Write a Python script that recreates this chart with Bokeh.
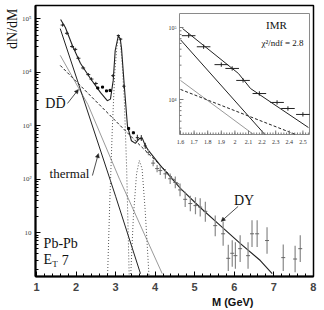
import numpy as np
from bokeh.plotting import figure
from bokeh.models import (Range1d, LinearScale, LogScale, Label, Arrow, NormalHead,
                          CustomJSTickFormatter, FixedTicker, Title)
from bokeh.core.properties import value
from bokeh.embed import file_html
from bokeh.resources import INLINE

SERIF = "Liberation Serif"
SANS = "Liberation Sans"

# ---------------- data ----------------
# intermediate-mass data points (M in GeV, dN/dM)
imr_m = [1.66, 1.77, 1.90, 1.98, 2.06, 2.18, 2.31, 2.39, 2.50]
imr_y = [77000, 54000, 30500, 27000, 18400, 12100, 9100, 7500, 6200]
imr_lo = [72000, 50500, 28500, 25200, 17200, 11300, 8500, 7000, 5800]
imr_hi = [82500, 58000, 32700, 28900, 19700, 13000, 9750, 8050, 6650]

# filled dots (between IMR and J/psi, and around psi')
dot_m = [2.55, 2.67, 2.77, 2.86, 3.33, 3.45]
dot_y = [5100, 5300, 4500, 4600, 890, 740]

# J/psi and psi' region points
res_m = [2.93, 3.07, 3.13, 3.21, 3.55, 3.65, 3.75]
res_y = [8700, 49000, 42000, 5500, 600, 590, 420]
res_lo = [8200, 46500, 39800, 5150, 530, 520, 370]
res_hi = [9200, 51500, 44200, 5850, 680, 670, 480]

# high-mass points
hm_m = [3.83, 3.95, 4.05, 4.13, 4.26, 4.38, 4.51, 4.63, 4.76, 4.89, 5.02, 5.14, 5.27,
        5.52, 5.72, 5.85, 5.95, 6.03, 6.15, 6.35, 6.45, 6.58, 6.83, 7.24, 7.54, 7.67]
hm_y = [316, 200, 158, 145, 126, 102, 87, 63, 42, 35, 32, 30, 25,
        13.5, 9.5, 3.3, 4.1, 3.7, 5.0, 3.7, 9.5, 9.5, 7.1, 3.4, 3.2, 5.0]
hm_lo = [280, 175, 135, 120, 102, 81, 68, 48, 30, 25, 22, 20, 16,
         8.5, 5.7, 1.9, 2.3, 2.1, 2.8, 2.1, 5.4, 5.4, 4.0, 1.9, 1.8, 2.8]
hm_hi = [355, 230, 185, 175, 155, 128, 112, 83, 58, 49, 46, 44, 38,
         21, 16, 5.9, 7.2, 6.6, 8.9, 6.6, 17, 17, 12.6, 6.0, 5.7, 8.9]

# fitted curves
total_m = [1.61, 1.73, 1.91, 2.11, 2.36, 2.62, 2.79, 2.87, 2.94, 2.99, 3.07, 3.12, 3.15,
           3.22, 3.30, 3.40, 3.50, 3.60, 3.68, 3.75, 3.83, 4.13, 4.64, 5.14, 5.65, 6.15,
           6.66, 6.96]
total_y = [97700, 69200, 31600, 14800, 7760, 4170, 2950, 3160, 7080, 25700, 49000, 41700,
           28200, 5620, 1000, 525, 468, 575, 575, 427, 347, 182, 67.6, 29.5, 13.5, 6.3,
           3.0, 1.7]
thermal_m = [1.6, 2.16, 3.0, 3.63]
thermal_y = [66000, 3700, 48, 1.7]
thermal2_m = [1.6, 2.3, 3.1, 4.18]
thermal2_y = [20900, 2500, 100, 1.7]
dd_m = [1.6, 2.5, 3.5, 4.13, 4.6]
dd_y = [13500, 2900, 525, 182, 80]
jpsi_m = [2.79, 2.85, 2.92, 2.98, 3.03, 3.07, 3.11, 3.16, 3.22, 3.28, 3.35]
jpsi_y = [1.0, 31.6, 1000, 10000, 28200, 45700, 39800, 17800, 3160, 158, 1.0]
psip_m = [3.37, 3.45, 3.53, 3.60, 3.67, 3.75, 3.86]
psip_y = [1.0, 20, 126, 224, 158, 25, 1.0]

# inset (IMR) curves
in_total_m = [1.615, 2.026, 2.115, 2.541]
in_total_y = [96800, 23000, 14200, 4080]
in_th_m = [1.6, 2.22]
in_th_y = [67600, 3270]
in_th2_m = [1.6, 2.137]
in_th2_y = [18400, 3270]
in_dd_m = [1.6, 2.446]
in_dd_y = [13800, 3270]

x_ticks = [1, 2, 3, 4, 5, 6, 7, 8]
y_ticks = [10, 100, 1000, 10000, 100000]
in_x_ticks = [1.6, 1.7, 1.8, 1.9, 2.0, 2.1, 2.2, 2.3, 2.4, 2.5]
in_x_labels = ["1.6", "1.7", "1.8", "1.9", "2", "2.1", "2.2", "2.3", "2.4", "2.5"]
in_y_ticks = [10000, 100000]
in_y_labels = ["10\u2074", "10\u2075"]

# ---------------- figure ----------------
p = figure(width=324, height=310, x_range=Range1d(0.9747, 8.005),
           y_range=Range1d(10 ** 0.1779, 10 ** 5.2528), y_axis_type="log",
           output_backend="svg", toolbar_location=None,
           min_border_left=35, min_border_right=11, min_border_top=5, min_border_bottom=34)
p.xgrid.visible = False
p.ygrid.visible = False
p.outline_line_color = "black"
p.outline_line_width = 1.5

p.xaxis.ticker = FixedTicker(ticks=x_ticks,
                             minor_ticks=[round(v, 2) for v in np.arange(1.0, 8.01, 0.2)])
p.xaxis.major_tick_in = 5
p.xaxis.major_tick_out = 0
p.xaxis.minor_tick_in = 3
p.xaxis.minor_tick_out = 0
p.xaxis.axis_line_width = 2
p.xaxis.major_label_text_font = SANS
p.xaxis.major_label_text_font_style = "bold"
p.xaxis.major_label_text_font_size = "11px"
p.xaxis.major_label_standoff = 6

minors = [k * 10 ** e for e in range(0, 6) for k in range(2, 10)]
p.yaxis.ticker = FixedTicker(ticks=y_ticks, minor_ticks=minors)
p.yaxis.formatter = CustomJSTickFormatter(code="""
const e = Math.round(Math.log10(tick));
if (e == 1) { return "10"; }
const s = ["\u2070","\u00b9","\u00b2","\u00b3","\u2074","\u2075","\u2076"];
return "10" + s[e];
""")
p.yaxis.major_tick_in = 5
p.yaxis.major_tick_out = 0
p.yaxis.minor_tick_in = 3
p.yaxis.minor_tick_out = 0
p.yaxis.axis_line_width = 2
p.yaxis.major_label_text_font = SERIF
p.yaxis.major_label_text_font_size = "7px"
p.yaxis.major_label_standoff = 4

# axis titles as side titles
p.add_layout(Title(text="M (GeV)", align="right", offset=60, standoff=0,
                   text_font=SANS, text_font_style="bold", text_font_size="11px",
                   text_color="#111111"), "below")
p.add_layout(Title(text="dN/dM", align="right", offset=3, standoff=0,
                   text_font=SERIF, text_font_style="normal", text_font_size="14px",
                   text_color="#111111"), "left")

DARK = "#222222"
GRAY = "#9a9a9a"

# model curves
p.line(thermal2_m, thermal2_y, line_color=GRAY, line_width=1)
p.line(thermal_m, thermal_y, line_color=DARK, line_width=1)
p.line(dd_m, dd_y, line_color=DARK, line_width=1, line_dash="3 2")
p.line(jpsi_m, jpsi_y, line_color="#555555", line_width=1, line_dash="1 2")
p.line(psip_m, psip_y, line_color="#555555", line_width=1, line_dash="1 2")
p.line(total_m, total_y, line_color=DARK, line_width=1.1)

# data points
imr_ma = np.array(imr_m)
p.segment(imr_m, imr_lo, imr_m, imr_hi, line_color=DARK, line_width=1)
p.segment(imr_ma - 0.05, imr_y, imr_ma + 0.05, imr_y, line_color=DARK, line_width=1)
res_ma = np.array(res_m)
p.segment(res_m, res_lo, res_m, res_hi, line_color=DARK, line_width=1)
p.segment(res_ma - 0.04, res_y, res_ma + 0.04, res_y, line_color=DARK, line_width=1)
hm_ma = np.array(hm_m)
p.segment(hm_m, hm_lo, hm_m, hm_hi, line_color="#888888", line_width=1.2)
p.segment(hm_ma - 0.05, hm_y, hm_ma + 0.05, hm_y, line_color="#666666", line_width=1)
p.scatter(dot_m, dot_y, marker="square", size=2, color="black")

# annotations in main panel
def lab(x, y, t, size="14px", align="center", baseline="middle"):
    p.add_layout(Label(x=x, y=y, text=t, text_font=SERIF, text_font_size=size,
                       text_align=align, text_baseline=baseline, text_color="#111111"))

lab(1.48, 2620, "DD\u0304")
lab(1.833, 128, "thermal", "13px")
lab(6.25, 40, "DY")
lab(1.18, 6.25, "Pb-Pb", "14px", "left")
lab(1.18, 3.13, "E", "14px", "left")
lab(1.40, 2.6, "T", "9px", "left")
lab(1.64, 3.13, "7", "14px", "left")

for (x0, y0, x1, y1) in [(1.783, 2620, 2.06, 4790), (2.414, 117, 2.566, 302),
                         (6.10, 31, 5.67, 16.2)]:
    p.add_layout(Arrow(end=NormalHead(size=4, line_color=DARK, fill_color=DARK, line_width=0.5),
                       x_start=x0, y_start=y0, x_end=x1, y_end=y1,
                       line_color=DARK, line_width=0.8))

# ---------------- inset ----------------
p.extra_x_ranges = {"ix": Range1d(0.5338, 2.578)}
p.extra_x_scales = {"ix": LinearScale()}
p.extra_y_ranges = {"iy": Range1d(10 ** 1.5417, 10 ** 5.3056)}
p.extra_y_scales = {"iy": LogScale()}
IX0, IX1 = 1.5926, 2.5485
IY0, IY1 = 10 ** 3.5139, 10 ** 5.1944
kw = dict(x_range_name="ix", y_range_name="iy")

p.quad(left=IX0, right=IX1, bottom=IY0, top=IY1, fill_color="white",
       line_color="#8a8a8a", line_width=1, **kw)
p.line(in_th2_m, in_th2_y, line_color=GRAY, line_width=1, **kw)
p.line(in_th_m, in_th_y, line_color=DARK, line_width=1, **kw)
p.line(in_dd_m, in_dd_y, line_color=DARK, line_width=1, line_dash="3 2", **kw)
p.line(in_total_m, in_total_y, line_color=DARK, line_width=1, **kw)
p.segment(imr_m, imr_lo, imr_m, imr_hi, line_color=DARK, line_width=1, **kw)
p.segment(imr_ma - 0.05, imr_y, imr_ma + 0.05, imr_y, line_color=DARK, line_width=1, **kw)

# inset ticks
f_maj = 10 ** (4 / 72)
f_min = 10 ** (2 / 72)
p.segment(in_x_ticks, [IY0] * len(in_x_ticks), in_x_ticks, [IY0 * f_maj] * len(in_x_ticks),
          line_color="#777777", line_width=1, **kw)
in_minor = [round(v, 2) for v in np.arange(1.6, 2.541, 0.02)]
p.segment(in_minor, [IY0] * len(in_minor), in_minor, [IY0 * f_min] * len(in_minor),
          line_color="#777777", line_width=1, **kw)
in_yminor = [4000, 5000, 6000, 7000, 8000, 9000, 20000, 30000, 40000, 50000, 60000,
             70000, 80000, 90000]
p.segment([IX0] * 2, in_y_ticks, [IX0 + 4 / 136] * 2, in_y_ticks,
          line_color="#777777", line_width=1, **kw)
p.segment([IX0] * len(in_yminor), in_yminor, [IX0 + 2 / 136] * len(in_yminor), in_yminor,
          line_color="#777777", line_width=1, **kw)
p.text(in_x_ticks, [10 ** 3.403] * len(in_x_ticks), text=in_x_labels,
       text_font=value(SERIF), text_font_size="6px", text_align="center",
       text_baseline="middle", text_color="#333333", **kw)
p.text([1.571, 1.571], in_y_ticks, text=in_y_labels, text_font=value(SERIF),
       text_font_size="6px", text_align="right", text_baseline="middle",
       text_color="#333333", **kw)
p.text([2.306], [10 ** 5.028], text=["IMR"], text_font=value(SERIF), text_font_size="11px",
       text_align="center", text_baseline="middle", text_color="#111111", **kw)
p.text([2.35], [10 ** 4.79], text=["\u03c7\u00b2/ndf = 2.8"], text_font=value(SERIF),
       text_font_size="9px", text_align="center", text_baseline="middle",
       text_color="#111111", **kw)

open("out.html", "w").write(file_html(p, INLINE))
